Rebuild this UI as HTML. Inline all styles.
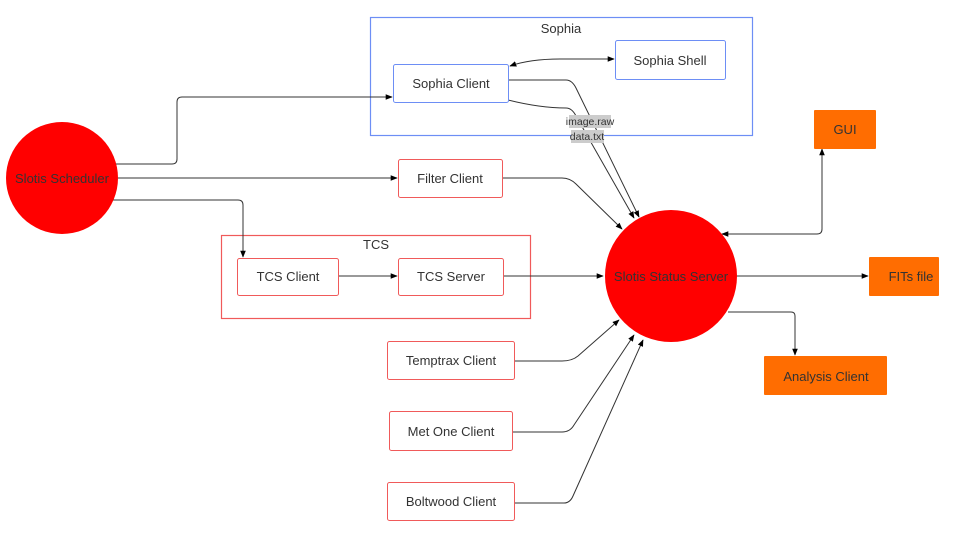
<!DOCTYPE html>
<html><head><meta charset="utf-8"><style>
html,body{margin:0;padding:0;background:#fff;width:960px;height:540px;overflow:hidden}
text{font-family:"Liberation Sans",Arial,sans-serif;fill:#333;}
</style></head><body>
<svg width="960" height="540" viewBox="0 0 960 540" xmlns="http://www.w3.org/2000/svg">
<defs>
<marker id="a" viewBox="0 0 10 10" refX="9" refY="5" markerWidth="7" markerHeight="7" orient="auto-start-reverse"><path d="M0,1 L10,5 L0,9 z" fill="#000"/></marker>
</defs>
<rect x="370.5" y="17.5" width="382" height="118" fill="none" stroke="#6d8ef5" stroke-width="1.2"/>
<text x="561" y="33" font-size="13" text-anchor="middle" fill="#000">Sophia</text>
<rect x="221.5" y="235.5" width="309" height="83" fill="none" stroke="#f05a5a" stroke-width="1.2"/>
<text x="376" y="249" font-size="13" text-anchor="middle" fill="#000">TCS</text>

<g fill="none" stroke="#333" stroke-width="1">
<path d="M112,164 H172 Q177,164 177,159 V102 Q177,97 182,97 H392" marker-end="url(#a)"/>
<path d="M118,178 H397" marker-end="url(#a)"/>
<path d="M110,200 H238 Q243,200 243,205 V257" marker-end="url(#a)"/>
<path d="M510,66 Q530,59 560,59 H614" marker-start="url(#a)" marker-end="url(#a)"/>
<path d="M508,80 H566 Q572,80 576,88 L639,217" marker-end="url(#a)"/>
<path d="M508,100 Q540,108 566,108 Q572,108 576,116 L634,218" marker-end="url(#a)"/>
<path d="M502,178 H562 Q570,178 576,184 L622,229" marker-end="url(#a)"/>
<path d="M338,276 H397" marker-end="url(#a)"/>
<path d="M503,276 H603" marker-end="url(#a)"/>
<path d="M514,361 H562 Q572,361 578,356 L619,320" marker-end="url(#a)"/>
<path d="M512,432 H562 Q570,432 574,425 L634,335" marker-end="url(#a)"/>
<path d="M514,503 H564 Q570,503 573,496 L643,340" marker-end="url(#a)"/>
<path d="M722,234 H817 Q822,234 822,229 V149" marker-start="url(#a)" marker-end="url(#a)"/>
<path d="M736,276 H868" marker-end="url(#a)"/>
<path d="M728,312 H791 Q795,312 795,316 V355" marker-end="url(#a)"/>
</g>

<rect x="569" y="115" width="42" height="13" fill="#ccc"/>
<text x="590" y="125" font-size="10.5" text-anchor="middle">image.raw</text>
<rect x="571" y="130" width="33" height="13" fill="#ccc"/>
<text x="587" y="140" font-size="10.5" text-anchor="middle">data.txt</text>

<circle cx="62" cy="178" r="56" fill="#ff0000"/>
<text x="62" y="183" font-size="13" text-anchor="middle" fill="#5a0000">Slotis Scheduler</text>
<circle cx="671" cy="276" r="66" fill="#ff0000"/>
<text x="671" y="281" font-size="13" text-anchor="middle" fill="#5a0000">Slotis Status Server</text>

<g font-size="13" text-anchor="middle">
<rect x="393.5" y="64.5" width="115" height="38" rx="2" fill="#fff" stroke="#6d8ef5"/>
<text x="451" y="88">Sophia Client</text>
<rect x="615.5" y="40.5" width="110" height="39" rx="2" fill="#fff" stroke="#6d8ef5"/>
<text x="670" y="65">Sophia Shell</text>
<rect x="398.5" y="159.5" width="104" height="38" rx="2" fill="#fff" stroke="#f05a5a"/>
<text x="450" y="183">Filter Client</text>
<rect x="237.5" y="258.5" width="101" height="37" rx="2" fill="#fff" stroke="#f05a5a"/>
<text x="288" y="281">TCS Client</text>
<rect x="398.5" y="258.5" width="105" height="37" rx="2" fill="#fff" stroke="#f05a5a"/>
<text x="451" y="281">TCS Server</text>
<rect x="387.5" y="341.5" width="127" height="38" rx="2" fill="#fff" stroke="#f05a5a"/>
<text x="451" y="365">Temptrax Client</text>
<rect x="389.5" y="411.5" width="123" height="39" rx="2" fill="#fff" stroke="#f05a5a"/>
<text x="451" y="436">Met One Client</text>
<rect x="387.5" y="482.5" width="127" height="38" rx="2" fill="#fff" stroke="#f05a5a"/>
<text x="451" y="506">Boltwood Client</text>
<rect x="814" y="110" width="62" height="39" rx="1" fill="#ff6d01"/>
<text x="845" y="134">GUI</text>
<rect x="869" y="257" width="70" height="39" rx="1" fill="#ff6d01"/>
<text x="911" y="281">FITs file</text>
<rect x="764" y="356" width="123" height="39" rx="1" fill="#ff6d01"/>
<text x="826" y="381">Analysis Client</text>
</g>
</svg>
</body></html>
